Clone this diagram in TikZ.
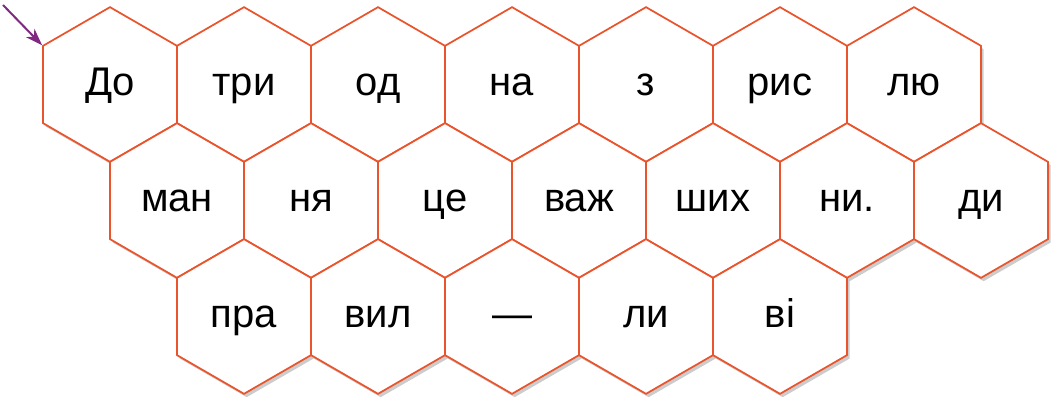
\documentclass[tikz,border=0pt]{standalone}
\usepackage{fontspec}
\setmainfont{Liberation Sans}
\usetikzlibrary{shapes.geometric,shadows,arrows.meta}
\definecolor{honeyred}{RGB}{233,84,44}
\definecolor{arrowpurple}{RGB}{128,40,130}

\begin{document}
\begin{tikzpicture}[x=0.75pt,y=-0.75pt,
  cell/.style={regular polygon, regular polygon sides=6, shape border rotate=30,
    draw=honeyred, line width=1.3pt, fill=white, minimum size=116pt, inner sep=0pt,
    text height=16.5pt, text depth=0pt,
    drop shadow={opacity=0.4,shadow xshift=2pt,shadow yshift=-2.5pt},
    font=\fontsize{30}{36}\selectfont}]
  \useasboundingbox (0,0) rectangle (1059,402);
  % top row
  \foreach \w [count=\i] in {До,три,од,на,з,рис,лю}
    \node[cell] (a\i) at ({110+134*(\i-1)},84.5) {\w};
  % middle row
  \foreach \w [count=\i] in {ман,ня,це,важ,ших,ни.,ди}
    \node[cell] (b\i) at ({177+134*(\i-1)},200.5) {\w};
  % bottom row
  \foreach \w [count=\i] in {пра,вил,—,ли,ві}
    \node[cell] (c\i) at ({244+134*(\i-1)},316.5) {\w};
  % start marker
  \coordinate (tail) at (3,5);
  \draw[arrowpurple, line width=1.5pt, -{Stealth[length=13pt,width=9pt]}] (tail) -- (a1.150);
\end{tikzpicture}
\end{document}
